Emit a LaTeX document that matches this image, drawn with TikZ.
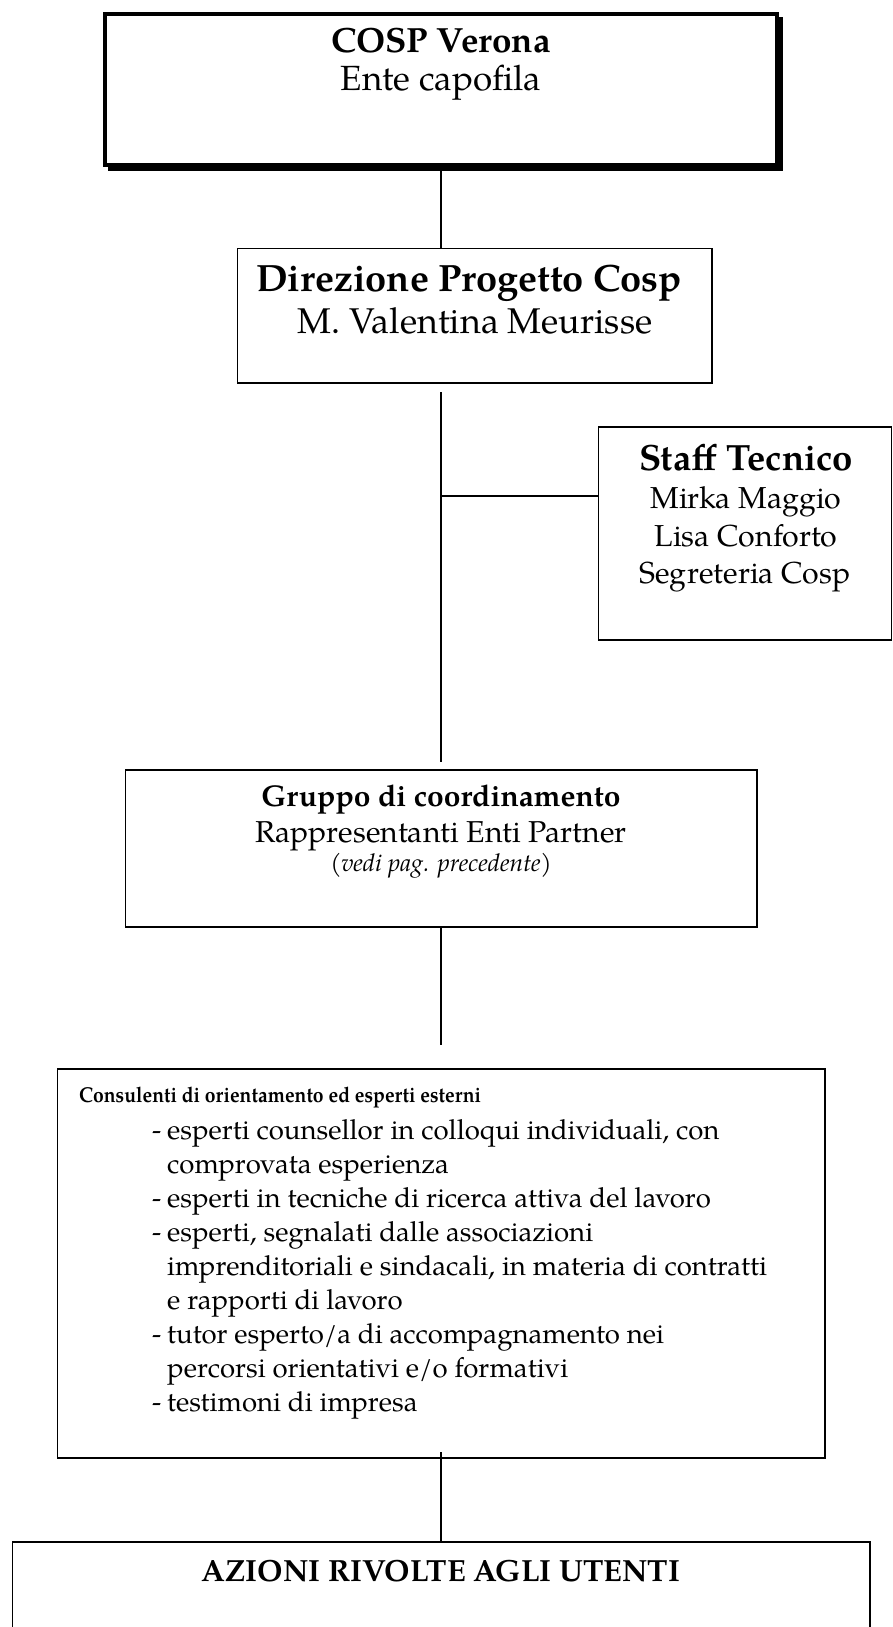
\documentclass[tikz,border=0pt]{standalone}
\usepackage{fontspec}
\setmainfont{TeX Gyre Pagella}
\usetikzlibrary{calc}
\newcommand{\fsz}[1]{\fontsize{#1}{#1}\selectfont}
\tikzset{
  box/.style={draw, line width=1.6pt, inner sep=0pt, outer sep=0pt, anchor=north west},
  conn/.style={line width=1.6pt},
  txt/.style={inner sep=0pt, anchor=base},
  txtl/.style={inner sep=0pt, anchor=base west},
  item/.style={txtl, font=\fsz{27.6}},
}
\begin{document}
\begin{tikzpicture}[x=1pt,y=-1pt]
\useasboundingbox (0,0) rectangle (892,1627);
% boxes
\node[box, line width=4pt, minimum width=672pt, minimum height=151pt] (cosp) at (105,14) {};
\fill (779,17) rectangle (783,171);
\fill (108,167) rectangle (783,171);
\node[box, minimum width=474.5pt, minimum height=134.5pt] (dir) at (237.5,248.5) {};
\node[box, minimum width=293pt, minimum height=213pt] (staff) at (598.5,427) {};
\node[box, minimum width=631.5pt, minimum height=157pt] (grp) at (125.5,770) {};
\node[box, minimum width=767.5pt, minimum height=389pt] (cons) at (57.5,1069) {};
\node[box, minimum width=857.5pt, minimum height=140pt] (az) at (12.5,1542) {};
% connectors
\coordinate (l2a) at (441,392);
\coordinate (l2b) at (441,762);
\coordinate (br) at (441,496);
\coordinate (l3b) at (441,1045);
\coordinate (l4a) at (441,1452);
\draw[conn] (cosp.south) -- (cosp.south |- dir.north);
\draw[conn] (l2a) -- (l2b);
\draw[conn] (br) -- (br -| staff.west);
\draw[conn] (grp.south -| l2a) -- (l3b);
\draw[conn] (l4a) -- (l4a |- az.north);
% texts
\node[txt, font=\bfseries\fsz{35}] (t1) at (441,53) {COSP Verona};
\node[txt, font=\fsz{35}] (t2) at (441,91) {Ente capofila};
\node[txt, font=\bfseries\fsz{38}] (d1) at (469,291) {Direzione Progetto Cosp};
\node[txt, font=\fsz{35.8}] (d2) at (475,333) {M. Valentina Meurisse};
\node[txt, font=\bfseries\fsz{36.5}] (s1) at (746,470) {Staff Tecnico};
\node[txt, font=\fsz{30.3}] (s2) at (746,508) {Mirka Maggio};
\node[txt, font=\fsz{30.3}] (s3) at (746,546) {Lisa Conforto};
\node[txt, font=\fsz{30.3}] (s4) at (745,583) {Segreteria Cosp};
\node[txt, font=\bfseries\fsz{30}] (g1) at (441,806) {Gruppo di coordinamento};
\node[txt, font=\fsz{30.2}] (g2) at (441,842) {Rappresentanti Enti Partner};
\node[txt, font=\itshape\fsz{24.5}] (g3) at (441,871) {(vedi pag. precedente)};
\node[txtl, font=\bfseries\fsz{21.5}, xscale=0.9, transform shape] (c0) at (79,1102) {Consulenti di orientamento ed esperti esterni};
\node[item] (cd1) at (152,1139) {-};
\node[item] (ct1) at (167,1139) {esperti counsellor in colloqui individuali, con};
\node[item] (ct2) at (167,1173.1) {comprovata esperienza};
\node[item] (cd3) at (152,1207.2) {-};
\node[item] (ct3) at (167,1207.2) {esperti in tecniche di ricerca attiva del lavoro};
\node[item] (cd4) at (152,1241.3) {-};
\node[item] (ct4) at (167,1241.3) {esperti, segnalati dalle associazioni};
\node[item] (ct5) at (167,1275.4) {imprenditoriali e sindacali, in materia di contratti};
\node[item] (ct6) at (167,1309.5) {e rapporti di lavoro};
\node[item] (cd7) at (152,1343.6) {-};
\node[item] (ct7) at (167,1343.6) {tutor esperto/a di accompagnamento nei};
\node[item] (ct8) at (167,1377.7) {percorsi orientativi e/o formativi};
\node[item] (cd9) at (152,1411.8) {-};
\node[item] (ct9) at (167,1411.8) {testimoni di impresa};
\node[txt, font=\bfseries\fsz{30.6}] (a1) at (441,1581) {AZIONI RIVOLTE AGLI UTENTI};
\end{tikzpicture}
\end{document}
